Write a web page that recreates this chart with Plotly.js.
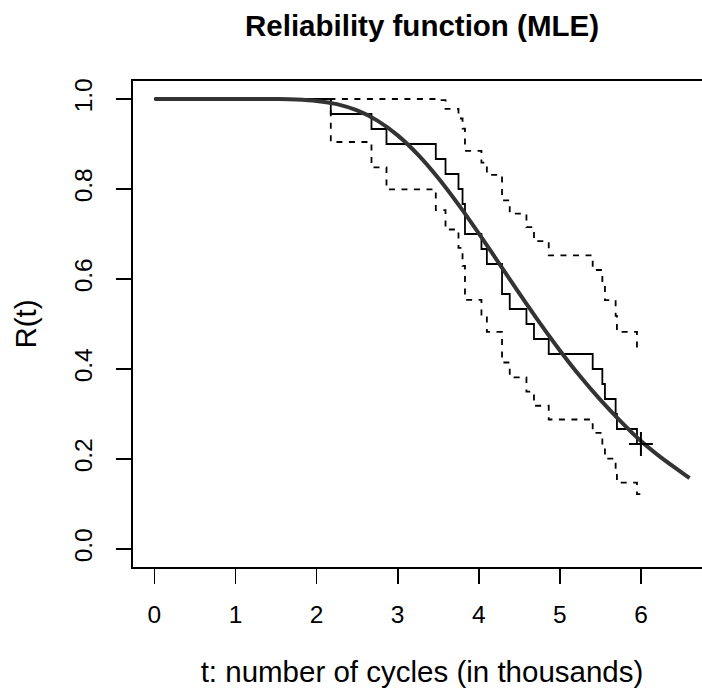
<!DOCTYPE html>
<html>
<head>
<meta charset="utf-8">
<script src="https://cdn.plot.ly/plotly-3.0.1.min.js"></script>
<style>
html, body { margin:0; padding:0; overflow:hidden; background:#fff; }
#chart { width:730px; height:692px; }
</style>
</head>
<body>
<div id="chart"></div>
<script>
// Failure times (thousands of cycles) and Kaplan-Meier estimates
const failTimes = [2.175, 2.677, 2.862, 3.47, 3.59, 3.75, 3.80, 3.83, 4.033, 4.10, 4.287, 4.382, 4.588, 4.681, 4.863, 5.405, 5.524, 5.556, 5.688, 5.704, 5.951];
const survKM    = [0.9667, 0.9333, 0.9, 0.8667, 0.8333, 0.8, 0.7667, 0.7, 0.6667, 0.6333, 0.5667, 0.5333, 0.5, 0.4667, 0.4333, 0.4, 0.3667, 0.3333, 0.3, 0.2667, 0.2333];
const upperCI   = [1, 1, 1, 0.9973, 0.978, 0.9567, 0.934, 0.8848, 0.8586, 0.8316, 0.7749, 0.7454, 0.7152, 0.6842, 0.6524, 0.62, 0.5869, 0.5529, 0.5182, 0.4827, 0.4464];
const lowerCI   = [0.9045, 0.848, 0.799, 0.7532, 0.710, 0.669, 0.629, 0.5538, 0.5176, 0.4824, 0.4144, 0.3816, 0.3496, 0.3183, 0.2878, 0.258, 0.2291, 0.2009, 0.1737, 0.1473, 0.122];
const startTime = 0;
const startSurv = 1;
const censorTime = 6.0;

// Fitted (MLE) reliability curve
const fitT = [0, 0.5, 1.0, 1.25, 1.5, 1.75, 2.0, 2.25, 2.5, 2.75, 3.0, 3.25, 3.5, 3.75, 4.0, 4.25, 4.5, 4.75, 5.0, 5.25, 5.5, 5.75, 6.0, 6.25, 6.5, 6.6];
const fitR = [1, 1, 1, 1, 0.9998, 0.9988, 0.9957, 0.9885, 0.9745, 0.9519, 0.9192, 0.8764, 0.8245, 0.7653, 0.7013, 0.6348, 0.5680, 0.5030, 0.4412, 0.3837, 0.3312, 0.2838, 0.2400, 0.2030, 0.1705, 0.1575];

const xTickVals = [0, 1, 2, 3, 4, 5, 6];
const xTickText = ["0", "1", "2", "3", "4", "5", "6"];
const yTickVals = [0, 0.2, 0.4, 0.6, 0.8, 1.0];
const yTickText = ["0.0", "0.2", "0.4", "0.6", "0.8", "1.0"];

const stepX = [startTime].concat(failTimes, [censorTime]);
const kmY = [startSurv].concat(survKM, [survKM[survKM.length - 1]]);
const upY = [startSurv].concat(upperCI, [upperCI[upperCI.length - 1]]);
const loY = [startSurv].concat(lowerCI, [lowerCI[lowerCI.length - 1]]);

const FONT = "Liberation Sans, Arial, Helvetica, sans-serif";

const traces = [
  { x: stepX, y: upY, mode: "lines", line: { shape: "hv", color: "black", width: 1.8, dash: "6px,6.5px" }, hoverinfo: "skip" },
  { x: stepX, y: loY, mode: "lines", line: { shape: "hv", color: "black", width: 1.8, dash: "6px,6.5px" }, hoverinfo: "skip" },
  { x: stepX, y: kmY, mode: "lines", line: { shape: "hv", color: "black", width: 1.8 } },
  { x: fitT, y: fitR, mode: "lines", line: { shape: "spline", color: "#333333", width: 4 } },
  { x: [censorTime], y: [survKM[survKM.length - 1]], mode: "markers",
    marker: { symbol: "cross-thin", size: 17, color: "black", line: { width: 2, color: "black" } } }
];

const layout = {
  width: 730, height: 692,
  margin: { l: 133, r: 19, t: 81, b: 125 },
  paper_bgcolor: "white", plot_bgcolor: "white",
  showlegend: false,
  font: { family: FONT, color: "black" },
  title: {
    text: "<b>Reliability function (MLE)</b>",
    font: { family: FONT, size: 29.5, color: "black" },
    x: 0.5, xref: "paper", xanchor: "center",
    y: 1 - 26 / 692, yref: "container", yanchor: "middle"
  },
  xaxis: {
    range: [-0.264, 6.864],
    tickmode: "array", tickvals: xTickVals, ticktext: xTickText,
    ticks: "outside", ticklen: 15, tickwidth: 1.8, tickcolor: "black",
    tickfont: { family: FONT, size: 24.5, color: "black" },
    ticklabelstandoff: 10,
    showline: true, mirror: true, linecolor: "black", linewidth: 1.8,
    showgrid: false, zeroline: false,
    title: { text: "t: number of cycles (in thousands)", font: { family: FONT, size: 29.5, color: "black" }, standoff: 34 }
  },
  yaxis: {
    range: [-0.04, 1.04],
    tickmode: "array", tickvals: yTickVals, ticktext: yTickText,
    tickangle: -90,
    ticks: "outside", ticklen: 15, tickwidth: 1.8, tickcolor: "black",
    tickfont: { family: FONT, size: 24.5, color: "black" },
    ticklabelstandoff: 14,
    showline: true, mirror: true, linecolor: "black", linewidth: 1.8,
    showgrid: false, zeroline: false,
    title: { text: "R(t)", font: { family: FONT, size: 29.5, color: "black" }, standoff: 25 }
  }
};

Plotly.newPlot("chart", traces, layout, { displayModeBar: false, staticPlot: true });
</script>
</body>
</html>
